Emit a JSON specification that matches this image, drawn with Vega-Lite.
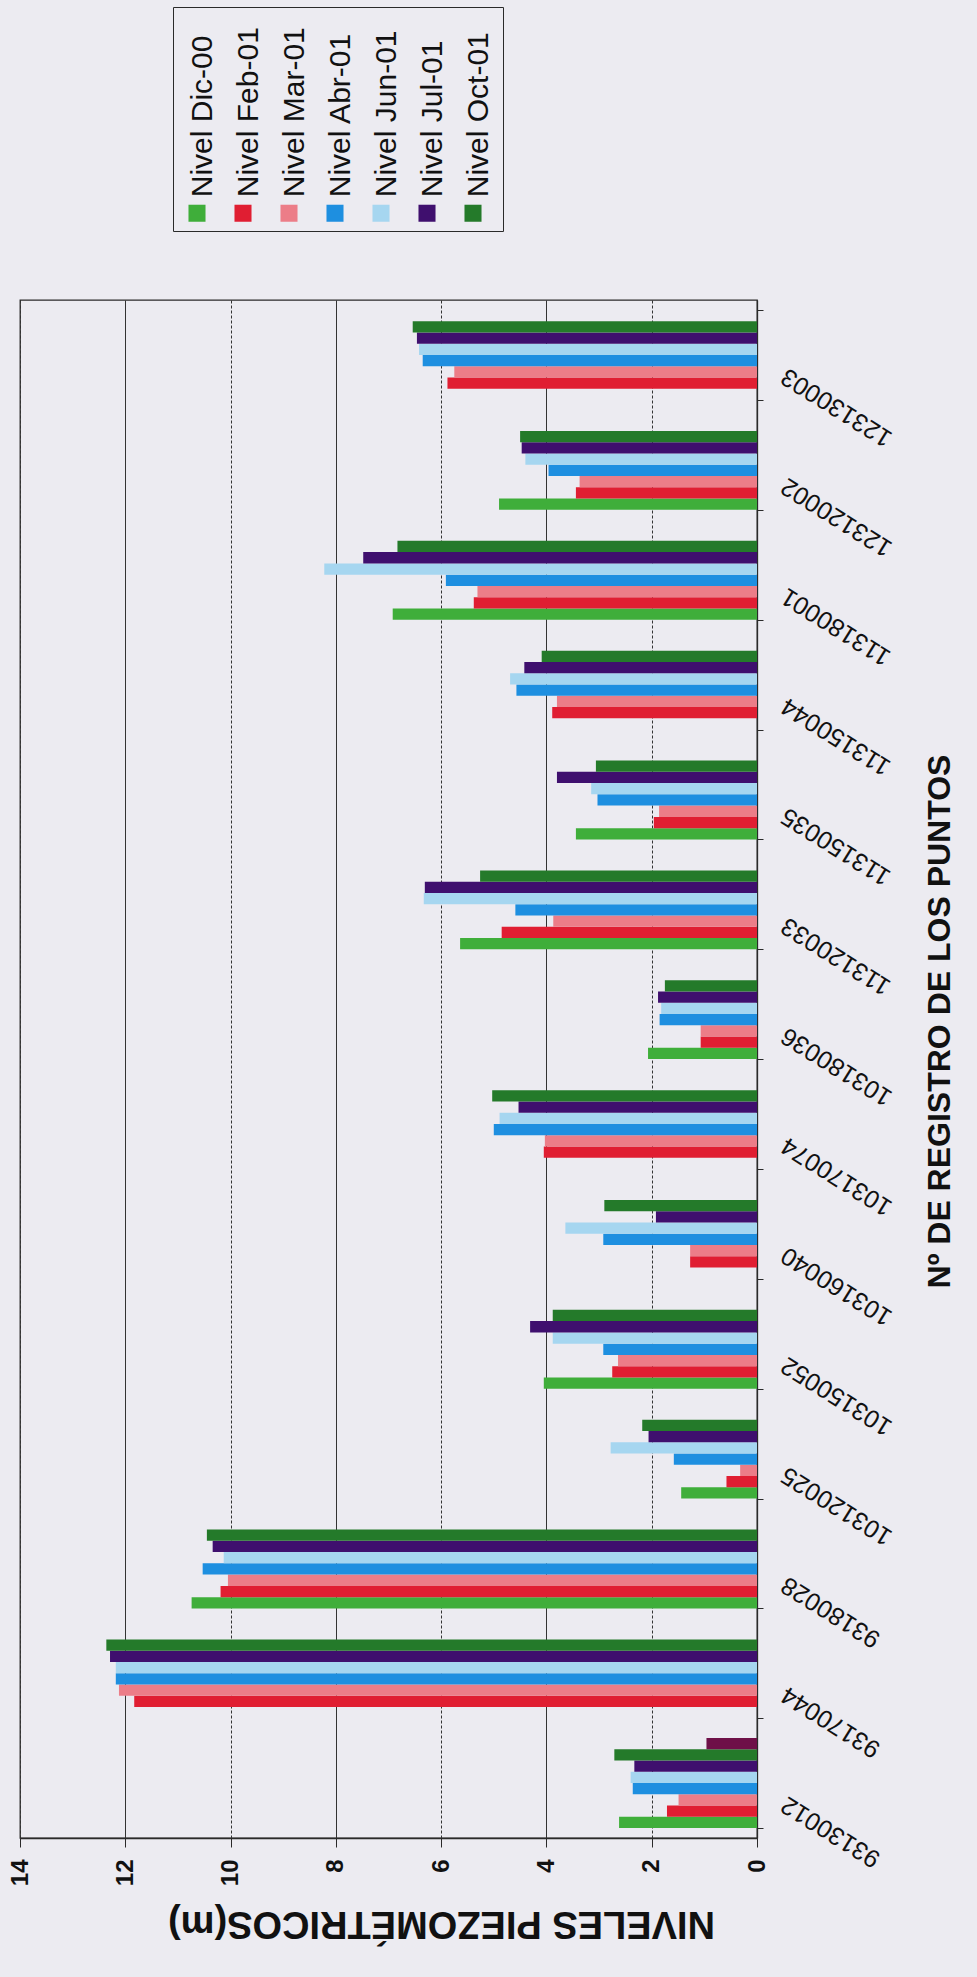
{
  "$schema": "https://vega.github.io/schema/vega-lite/v6.json",
  "width": 737,
  "height": 1538,
  "autosize": "none",
  "padding": {"left": 20, "top": 300, "right": 220, "bottom": 139},
  "background": "#ecebf1",
  "config": {
    "font": "Liberation Sans",
    "view": {"stroke": "#2a2a2a", "strokeWidth": 1.3}
  },
  "data": {
    "values": [
      {"punto": "93130012", "serie": "Nivel Dic-00", "nivel": 2.62},
      {"punto": "93130012", "serie": "Nivel Feb-01", "nivel": 1.71},
      {"punto": "93130012", "serie": "Nivel Mar-01", "nivel": 1.49},
      {"punto": "93130012", "serie": "Nivel Abr-01", "nivel": 2.36},
      {"punto": "93130012", "serie": "Nivel Jun-01", "nivel": 2.40},
      {"punto": "93130012", "serie": "Nivel Jul-01", "nivel": 2.33},
      {"punto": "93130012", "serie": "Nivel Oct-01", "nivel": 2.71},
      {"punto": "93130012", "serie": "Serie 8", "nivel": 0.96},

      {"punto": "93170044", "serie": "Nivel Feb-01", "nivel": 11.83},
      {"punto": "93170044", "serie": "Nivel Mar-01", "nivel": 12.12},
      {"punto": "93170044", "serie": "Nivel Abr-01", "nivel": 12.18},
      {"punto": "93170044", "serie": "Nivel Jun-01", "nivel": 12.18},
      {"punto": "93170044", "serie": "Nivel Jul-01", "nivel": 12.29},
      {"punto": "93170044", "serie": "Nivel Oct-01", "nivel": 12.36},

      {"punto": "93180028", "serie": "Nivel Dic-00", "nivel": 10.74},
      {"punto": "93180028", "serie": "Nivel Feb-01", "nivel": 10.19},
      {"punto": "93180028", "serie": "Nivel Mar-01", "nivel": 10.05},
      {"punto": "93180028", "serie": "Nivel Abr-01", "nivel": 10.53},
      {"punto": "93180028", "serie": "Nivel Jun-01", "nivel": 10.13},
      {"punto": "93180028", "serie": "Nivel Jul-01", "nivel": 10.34},
      {"punto": "93180028", "serie": "Nivel Oct-01", "nivel": 10.45},

      {"punto": "103120025", "serie": "Nivel Dic-00", "nivel": 1.44},
      {"punto": "103120025", "serie": "Nivel Feb-01", "nivel": 0.58},
      {"punto": "103120025", "serie": "Nivel Mar-01", "nivel": 0.32},
      {"punto": "103120025", "serie": "Nivel Abr-01", "nivel": 1.58},
      {"punto": "103120025", "serie": "Nivel Jun-01", "nivel": 2.78},
      {"punto": "103120025", "serie": "Nivel Jul-01", "nivel": 2.06},
      {"punto": "103120025", "serie": "Nivel Oct-01", "nivel": 2.18},

      {"punto": "103150052", "serie": "Nivel Dic-00", "nivel": 4.05},
      {"punto": "103150052", "serie": "Nivel Feb-01", "nivel": 2.75},
      {"punto": "103150052", "serie": "Nivel Mar-01", "nivel": 2.64},
      {"punto": "103150052", "serie": "Nivel Abr-01", "nivel": 2.92},
      {"punto": "103150052", "serie": "Nivel Jun-01", "nivel": 3.88},
      {"punto": "103150052", "serie": "Nivel Jul-01", "nivel": 4.31},
      {"punto": "103150052", "serie": "Nivel Oct-01", "nivel": 3.88},

      {"punto": "103160040", "serie": "Nivel Feb-01", "nivel": 1.27},
      {"punto": "103160040", "serie": "Nivel Mar-01", "nivel": 1.27},
      {"punto": "103160040", "serie": "Nivel Abr-01", "nivel": 2.92},
      {"punto": "103160040", "serie": "Nivel Jun-01", "nivel": 3.64},
      {"punto": "103160040", "serie": "Nivel Jul-01", "nivel": 1.92},
      {"punto": "103160040", "serie": "Nivel Oct-01", "nivel": 2.90},

      {"punto": "103170074", "serie": "Nivel Feb-01", "nivel": 4.05},
      {"punto": "103170074", "serie": "Nivel Mar-01", "nivel": 4.03},
      {"punto": "103170074", "serie": "Nivel Abr-01", "nivel": 5.00},
      {"punto": "103170074", "serie": "Nivel Jun-01", "nivel": 4.89},
      {"punto": "103170074", "serie": "Nivel Jul-01", "nivel": 4.53},
      {"punto": "103170074", "serie": "Nivel Oct-01", "nivel": 5.03},

      {"punto": "103180036", "serie": "Nivel Dic-00", "nivel": 2.07},
      {"punto": "103180036", "serie": "Nivel Feb-01", "nivel": 1.07},
      {"punto": "103180036", "serie": "Nivel Mar-01", "nivel": 1.07},
      {"punto": "103180036", "serie": "Nivel Abr-01", "nivel": 1.85},
      {"punto": "103180036", "serie": "Nivel Jun-01", "nivel": 1.82},
      {"punto": "103180036", "serie": "Nivel Jul-01", "nivel": 1.88},
      {"punto": "103180036", "serie": "Nivel Oct-01", "nivel": 1.75},

      {"punto": "113120033", "serie": "Nivel Dic-00", "nivel": 5.64},
      {"punto": "113120033", "serie": "Nivel Feb-01", "nivel": 4.85},
      {"punto": "113120033", "serie": "Nivel Mar-01", "nivel": 3.87},
      {"punto": "113120033", "serie": "Nivel Abr-01", "nivel": 4.59},
      {"punto": "113120033", "serie": "Nivel Jun-01", "nivel": 6.33},
      {"punto": "113120033", "serie": "Nivel Jul-01", "nivel": 6.31},
      {"punto": "113120033", "serie": "Nivel Oct-01", "nivel": 5.26},

      {"punto": "113150035", "serie": "Nivel Dic-00", "nivel": 3.44},
      {"punto": "113150035", "serie": "Nivel Feb-01", "nivel": 1.96},
      {"punto": "113150035", "serie": "Nivel Mar-01", "nivel": 1.86},
      {"punto": "113150035", "serie": "Nivel Abr-01", "nivel": 3.03},
      {"punto": "113150035", "serie": "Nivel Jun-01", "nivel": 3.15},
      {"punto": "113150035", "serie": "Nivel Jul-01", "nivel": 3.80},
      {"punto": "113150035", "serie": "Nivel Oct-01", "nivel": 3.06},

      {"punto": "113150044", "serie": "Nivel Feb-01", "nivel": 3.89},
      {"punto": "113150044", "serie": "Nivel Mar-01", "nivel": 3.80},
      {"punto": "113150044", "serie": "Nivel Abr-01", "nivel": 4.57},
      {"punto": "113150044", "serie": "Nivel Jun-01", "nivel": 4.69},
      {"punto": "113150044", "serie": "Nivel Jul-01", "nivel": 4.42},
      {"punto": "113150044", "serie": "Nivel Oct-01", "nivel": 4.09},

      {"punto": "113180001", "serie": "Nivel Dic-00", "nivel": 6.92},
      {"punto": "113180001", "serie": "Nivel Feb-01", "nivel": 5.38},
      {"punto": "113180001", "serie": "Nivel Mar-01", "nivel": 5.31},
      {"punto": "113180001", "serie": "Nivel Abr-01", "nivel": 5.91},
      {"punto": "113180001", "serie": "Nivel Jun-01", "nivel": 8.22},
      {"punto": "113180001", "serie": "Nivel Jul-01", "nivel": 7.48},
      {"punto": "113180001", "serie": "Nivel Oct-01", "nivel": 6.83},

      {"punto": "123120002", "serie": "Nivel Dic-00", "nivel": 4.90},
      {"punto": "123120002", "serie": "Nivel Feb-01", "nivel": 3.44},
      {"punto": "123120002", "serie": "Nivel Mar-01", "nivel": 3.37},
      {"punto": "123120002", "serie": "Nivel Abr-01", "nivel": 3.96},
      {"punto": "123120002", "serie": "Nivel Jun-01", "nivel": 4.40},
      {"punto": "123120002", "serie": "Nivel Jul-01", "nivel": 4.47},
      {"punto": "123120002", "serie": "Nivel Oct-01", "nivel": 4.50},

      {"punto": "123130003", "serie": "Nivel Feb-01", "nivel": 5.88},
      {"punto": "123130003", "serie": "Nivel Mar-01", "nivel": 5.75},
      {"punto": "123130003", "serie": "Nivel Abr-01", "nivel": 6.35},
      {"punto": "123130003", "serie": "Nivel Jun-01", "nivel": 6.42},
      {"punto": "123130003", "serie": "Nivel Jul-01", "nivel": 6.46},
      {"punto": "123130003", "serie": "Nivel Oct-01", "nivel": 6.54}
    ]
  },
  "mark": {"type": "bar"},
  "encoding": {
    "y": {
      "field": "punto",
      "type": "nominal",
      "sort": ["123130003", "123120002", "113180001", "113150044", "113150035", "113120033", "103180036", "103170074", "103160040", "103150052", "103120025", "93180028", "93170044", "93130012"],
      "scale": {"paddingInner": 0.18, "paddingOuter": 0.09},
      "axis": {
        "orient": "right",
        "tickBand": "extent",
        "ticks": true,
        "tickSize": 6,
        "tickColor": "#2a2a2a",
        "domainColor": "#2a2a2a",
        "domainWidth": 1.3,
        "labelAngle": 212,
        "labelAlign": "right",
        "labelBaseline": "middle",
        "labelPadding": 20,
        "labelOffset": 19,
        "labelFont": "Liberation Sans",
        "labelFontSize": 25,
        "labelColor": "#111111",
        "labelLimit": 300,
        "title": "Nº DE REGISTRO DE LOS PUNTOS",
        "titleAngle": 270,
        "titleAlign": "center",
        "titleBaseline": "middle",
        "titleX": 182,
        "titleY": 721,
        "titleFont": "Liberation Sans",
        "titleFontSize": 32,
        "titleFontWeight": "bold",
        "titleColor": "#111111"
      }
    },
    "yOffset": {
      "field": "serie",
      "type": "nominal",
      "scale": {
        "domain": ["Serie 8", "Nivel Oct-01", "Nivel Jul-01", "Nivel Jun-01", "Nivel Abr-01", "Nivel Mar-01", "Nivel Feb-01", "Nivel Dic-00"],
        "paddingInner": 0,
        "paddingOuter": 0
      }
    },
    "x": {
      "field": "nivel",
      "type": "quantitative",
      "scale": {"domain": [0, 14], "reverse": true, "nice": false},
      "axis": {
        "orient": "bottom",
        "values": [0, 2, 4, 6, 8, 10, 12, 14],
        "grid": true,
        "gridColor": "#333333",
        "gridWidth": 1,
        "gridDash": {"condition": {"test": "datum.value % 4 == 2", "value": [3, 2]}, "value": []},
        "tickSize": 9,
        "tickColor": "#2a2a2a",
        "domainColor": "#2a2a2a",
        "domainWidth": 1.3,
        "labelAngle": 270,
        "labelAlign": "right",
        "labelBaseline": "middle",
        "labelPadding": 12,
        "labelFont": "Liberation Sans",
        "labelFontSize": 24,
        "labelFontWeight": "bold",
        "labelColor": "#111111",
        "title": "NIVELES PIEZOMÉTRICOS(m)",
        "titleAngle": 180,
        "titleAlign": "center",
        "titleBaseline": "middle",
        "titleX": 421,
        "titleY": 84,
        "titleFont": "Liberation Sans",
        "titleFontSize": 38,
        "titleFontWeight": "bold",
        "titleColor": "#111111"
      }
    },
    "color": {
      "field": "serie",
      "type": "nominal",
      "scale": {
        "domain": ["Nivel Dic-00", "Nivel Feb-01", "Nivel Mar-01", "Nivel Abr-01", "Nivel Jun-01", "Nivel Jul-01", "Nivel Oct-01", "Serie 8"],
        "range": ["#3fae3a", "#e01e32", "#ec7d88", "#1e8fe0", "#a6d6f0", "#3f0f6e", "#247a2a", "#6e1048"]
      },
      "legend": {
        "title": " ",
        "titleFontSize": 172,
        "titlePadding": 10,
        "values": ["Nivel Dic-00", "Nivel Feb-01", "Nivel Mar-01", "Nivel Abr-01", "Nivel Jun-01", "Nivel Jul-01", "Nivel Oct-01"],
        "orient": "none",
        "direction": "horizontal",
        "legendX": 153,
        "legendY": -293,
        "symbolType": "square",
        "symbolSize": 290,
        "symbolStrokeWidth": 0,
        "labelFont": "Liberation Sans",
        "labelFontSize": 30,
        "labelColor": "#111111",
        "labelLimit": 400,
        "labelAlign": "left",
        "labelBaseline": "middle",
        "labelOffset": -9,
        "columnPadding": 9,
        "padding": 9,
        "strokeColor": "#2a2a2a",
        "fillColor": "#ecebf1",
        "encode": {
          "labels": {"update": {"angle": {"value": -90}, "dx": {"value": 16}}}
        }
      }
    }
  }
}
